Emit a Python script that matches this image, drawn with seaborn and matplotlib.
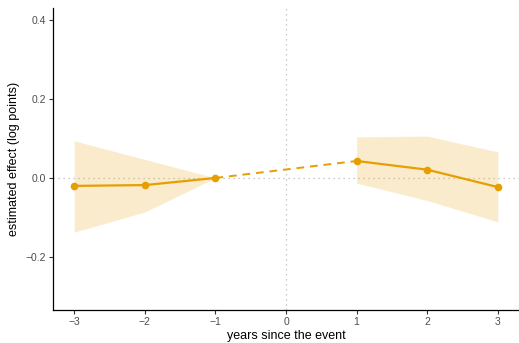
import numpy as np
import pandas as pd
import matplotlib
matplotlib.use("Agg")
import matplotlib.pyplot as plt
import seaborn as sns

years_pre = [-3, -2, -1]
est_pre = [-0.020, -0.018, 0.000]
lo_pre = [-0.137, -0.086, 0.000]
hi_pre = [0.094, 0.047, 0.000]

years_post = [1, 2, 3]
est_post = [0.043, 0.021, -0.023]
lo_post = [-0.013, -0.057, -0.111]
hi_post = [0.104, 0.106, 0.066]

color = "#E69F00"

sns.set_theme(style="ticks")
plt.rcParams['font.family'] = ['Liberation Sans', 'DejaVu Sans']

fig = plt.figure(figsize=(5.19, 3.43), dpi=100)
ax = fig.add_axes([53/519, 33/343, 1 - 53/519, (310 - 8)/343])

pre = pd.DataFrame({"year": years_pre, "est": est_pre})
post = pd.DataFrame({"year": years_post, "est": est_post})
bridge = pd.DataFrame({"year": [years_pre[-1], years_post[0]], "est": [est_pre[-1], est_post[0]]})

ax.axhline(0, color="#BBBBBB", linestyle=(0, (1, 3)), linewidth=0.9, zorder=0)
ax.axvline(0, color="#BBBBBB", linestyle=(0, (1, 3)), linewidth=0.9, zorder=0)

ax.fill_between(years_pre, lo_pre, hi_pre, color=color, alpha=0.2, linewidth=0)
ax.fill_between(years_post, lo_post, hi_post, color=color, alpha=0.2, linewidth=0)

sns.lineplot(data=bridge, x="year", y="est", ax=ax, color=color, linestyle=(0, (4, 3)), linewidth=1.4)
sns.lineplot(data=pre, x="year", y="est", ax=ax, color=color, linewidth=1.6, marker="o", markersize=5.5, markeredgewidth=0)
sns.lineplot(data=post, x="year", y="est", ax=ax, color=color, linewidth=1.6, marker="o", markersize=5.5, markeredgewidth=0)

ax.set_xlim(-3.3, 3.3)
ax.set_ylim(-0.334, 0.43)
ax.set_xticks([-3, -2, -1, 0, 1, 2, 3])
ax.set_xticklabels(["\u22123", "\u22122", "\u22121", "0", "1", "2", "3"])
ax.set_yticks([-0.2, 0.0, 0.2, 0.4])
ax.set_yticklabels(["\u22120.2", "0.0", "0.2", "0.4"])
ax.tick_params(axis="both", labelsize=7.5, labelcolor="#4D4D4D", color="#333333", length=3, width=0.8, pad=2)
ax.set_xlabel("years since the event", fontsize=9, color="black", labelpad=2)
ax.set_ylabel("estimated effect (log points)", fontsize=9, color="black", labelpad=4)
sns.despine(ax=ax)
for s in ["left", "bottom"]:
    ax.spines[s].set_color("black")
    ax.spines[s].set_linewidth(0.9)
ax.grid(False)

fig.savefig("out.png", dpi=100)
